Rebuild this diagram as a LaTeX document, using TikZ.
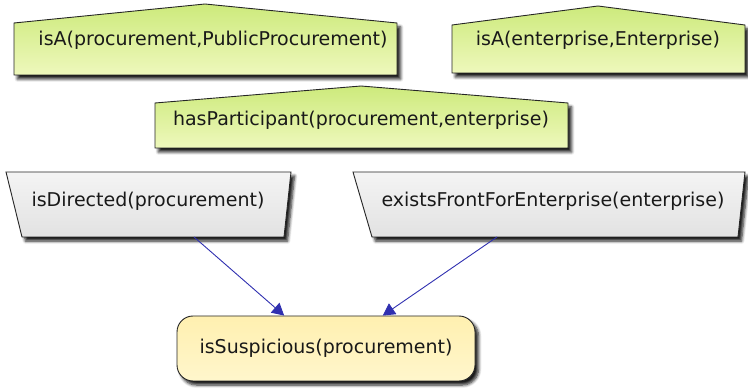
\documentclass[tikz,border=0pt]{standalone}
\usepackage{fontspec}
\setmainfont{DejaVu Sans}
\usetikzlibrary{shadows.blur,arrows.meta,calc}

\definecolor{leafTop}{HTML}{CDEA7C}
\definecolor{leafBot}{HTML}{EEF8BC}
\definecolor{greyTop}{HTML}{F4F4F4}
\definecolor{greyBot}{HTML}{E2E2E2}
\definecolor{goalTop}{HTML}{FFF6CC}
\definecolor{goalBot}{HTML}{FFF0B0}
\definecolor{linkBlue}{HTML}{3030B0}

\tikzset{
  boxshadow/.style={blur shadow={shadow xshift=3.5pt, shadow yshift=-4pt,
      shadow blur steps=6, shadow blur radius=3pt, shadow opacity=90}},
  factshape/.style={draw=black!85, line width=0.9pt, top color=leafTop,
      bottom color=leafBot, boxshadow},
  ruleshape/.style={draw=black!85, line width=0.9pt, top color=greyTop,
      bottom color=greyBot, boxshadow},
  goalshape/.style={draw=black!85, line width=0.9pt, top color=goalBot,
      bottom color=goalTop, rounded corners=16pt, boxshadow,
      minimum width=298pt, minimum height=65pt, inner sep=0pt,
      font=\fontsize{19}{22}\selectfont, text=black!90},
  lbl/.style={inner sep=0pt, font=\fontsize{19}{22}\selectfont, text=black!90},
  link/.style={draw=linkBlue, line width=0.9pt,
      -{Triangle[length=12pt, width=13pt, fill=linkBlue]}},
}

\begin{document}
\begin{tikzpicture}[x=1pt, y=-1pt]
\useasboundingbox (0,0) rectangle (748,390);

% facts (house-shaped boxes)
\path[factshape] (14,23) -- (205,4) -- (397,23) -- (397,75) -- (14,75) -- cycle;
\node[lbl] (pp) at (213,40) {isA(procurement,PublicProcurement)};

\path[factshape] (452,25) -- (598,6) -- (745,25) -- (745,73) -- (452,73) -- cycle;
\node[lbl] (ent) at (598,40) {isA(enterprise,Enterprise)};

\path[factshape] (155,103) -- (361,86) -- (568,103) -- (568,148) -- (155,148) -- cycle;
\node[lbl] (part) at (361,120) {hasParticipant(procurement,enterprise)};

% rules (inverted trapezia)
\path[ruleshape] (6,172) -- (291,172) -- (284,237) -- (22,237) -- cycle;
\node[lbl] (dir) at (148,201) {isDirected(procurement)};
\coordinate (dirfoot) at (194,237);

\path[ruleshape] (353,172) -- (745,172) -- (738,237) -- (372,237) -- cycle;
\node[lbl] (front) at (553,201) {existsFrontForEnterprise(enterprise)};
\coordinate (frontfoot) at (497,237);

% goal
\node[goalshape] (susp) at (326,348.5) {isSuspicious(procurement)};

% connectors
\draw[link] (dirfoot) -- ($(susp.north west)!0.36!(susp.north east)$);
\draw[link] (frontfoot) -- ($(susp.north west)!0.69!(susp.north east)$);
\end{tikzpicture}
\end{document}
